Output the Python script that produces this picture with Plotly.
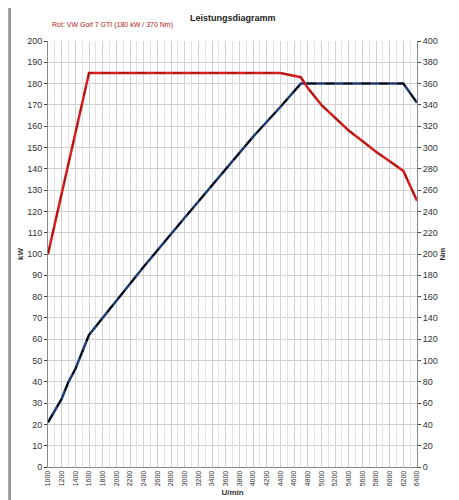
import plotly.graph_objects as go

rpm_kw = [1000, 1200, 1300, 1400, 1600, 2000, 2400, 3000, 3600, 4000, 4400, 4700, 5000, 5600, 6200, 6400]
kw = [21, 32, 40, 46, 62, 78, 94, 117, 140, 155, 169, 180, 180, 180, 180, 171]

rpm_nm = [1000, 1600, 2000, 3000, 4000, 4400, 4700, 4800, 5000, 5200, 5400, 5600, 5800, 6000, 6200, 6400]
nm = [200, 370, 370, 370, 370, 370, 366, 356, 340, 328, 316, 306, 296, 287, 278, 250]

fig = go.Figure()
fig.add_trace(go.Scatter(x=rpm_kw, y=kw, mode="lines", line=dict(color="#1f3a6e", width=2.5), showlegend=False))
fig.add_trace(go.Scatter(x=rpm_kw, y=kw, mode="lines", line=dict(color="black", width=1.5, dash="dash"), showlegend=False))
fig.add_trace(go.Scatter(x=rpm_nm, y=nm, yaxis="y2", mode="lines", line=dict(color="#d42020", width=2.5), showlegend=False))
fig.add_trace(go.Scatter(x=rpm_nm, y=nm, yaxis="y2", mode="lines", line=dict(color="#a01010", width=1.2, dash="dash"), showlegend=False))

f = dict(family="Liberation Sans, Arial", size=9, color="#333")
fig.update_layout(
    width=459, height=500, margin=dict(l=39, r=50, t=33, b=34),
    paper_bgcolor="white", plot_bgcolor="white", font=f,
    xaxis=dict(range=[1000, 6400], tick0=1000, dtick=200, tickangle=-90,
               showgrid=True, gridcolor="#d0d0d0", gridwidth=1,
               minor=dict(dtick=100, showgrid=True, gridcolor="#e2e2e2"),
               showline=True, linecolor="#888", zeroline=False,
               title=dict(text="<b>U/min</b>", font=dict(size=8), standoff=4), tickfont=dict(size=7)),
    yaxis=dict(range=[0, 200], dtick=10, showgrid=True, gridcolor="#d0d0d0", showline=True, linecolor="#888",
               ticks="outside", ticklen=3, zeroline=False,
               title=dict(text="<b>kW</b>", font=dict(size=8), standoff=2)),
    yaxis2=dict(range=[0, 400], dtick=20, overlaying="y", side="right", showgrid=False, showline=True,
                linecolor="#888", ticks="outside", ticklen=3, zeroline=False,
                title=dict(text="<b>Nm</b>", font=dict(size=8), standoff=2)),
    annotations=[
        dict(text="<b>Leistungsdiagramm</b>", x=0.5, y=1.0, xref="paper", yref="paper", yanchor="top",
             xanchor="center", showarrow=False, font=dict(size=9, color="#222"), yshift=30),
        dict(text="Rot: VW Golf 7 GTI (180 kW / 370 Nm)", x=0.005, xref="paper", y=1.0, yref="paper",
             xanchor="left", yanchor="bottom", showarrow=False, font=dict(size=7, color="#b02020"), yshift=10),
    ],
    shapes=[dict(type="rect", xref="paper", yref="paper", x0=-0.108, x1=-0.1, y0=-0.08, y1=1.08,
                 fillcolor="#999", line=dict(width=0))],
)
fig.write_html("out.html")
